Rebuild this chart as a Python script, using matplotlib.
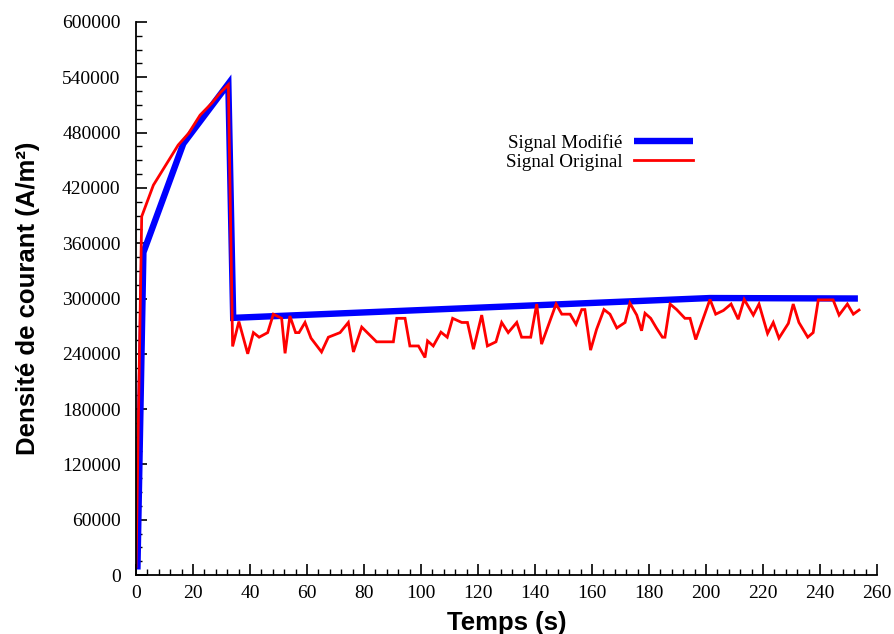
import numpy as np
import matplotlib

matplotlib.use('Agg')

import matplotlib.pyplot as plt
from matplotlib.ticker import MultipleLocator

# modified signal (piecewise linear)
mod_t = [0.5, 2.6, 16.6, 32.4, 34.1, 201.4, 253.3]
mod_j = [6000, 350000, 468000, 533000, 279000, 300500, 300000]

# original signal
orig_t = [0.0, 2.0, 6.1, 14.8, 18.4, 22.5, 26.6, 29.5, 32.4, 33.9,
          36.1, 39.2, 41.2, 43.2, 46.2, 48.2, 51.1, 52.3, 54.0, 56.0,
          57.2, 59.3, 61.4, 65.1, 67.5, 71.6, 74.5, 76.3, 79.2, 84.4,
          90.3, 91.5, 94.4, 96.1, 99.1, 101.4, 102.3, 104.3, 107.0, 109.2,
          111.1, 114.3, 116.3, 118.4, 121.3, 123.3, 126.3, 128.3, 130.6, 133.6,
          135.3, 138.5, 140.6, 142.3, 147.4, 149.4, 152.3, 154.4, 156.4, 157.5,
          159.5, 161.6, 164.2, 166.3, 168.7, 171.6, 173.3, 175.7, 177.4, 178.6,
          180.6, 182.6, 184.7, 185.6, 187.4, 189.7, 192.6, 194.4, 196.4, 201.4,
          203.4, 206.1, 208.8, 211.3, 213.4, 216.6, 218.6, 221.6, 223.6, 225.6,
          228.9, 230.6, 232.6, 235.7, 237.6, 239.4, 244.6, 246.7, 249.6, 251.7,
          253.7]
orig_j = [9000, 389000, 423000, 466500, 479000, 499000, 512000, 523000, 532000, 248000,
          275000, 240000, 263000, 258000, 263000, 283000, 278500, 240500, 281000, 263000,
          263000, 274000, 257000, 242000, 258000, 263000, 274000, 242000, 269000, 253000,
          253000, 278500, 278500, 248500, 248500, 236000, 254000, 248500, 263500, 258000,
          278500, 274000, 274000, 245000, 282000, 248500, 253000, 274000, 263000, 274000,
          258000, 258000, 294000, 250500, 294000, 283000, 283000, 272000, 288000, 288000,
          244000, 266500, 288000, 283000, 268000, 274000, 295000, 282000, 265000, 284000,
          278500, 268000, 258000, 258000, 294000, 288000, 278500, 278500, 255500, 299000,
          283000, 287000, 294000, 277500, 299000, 282000, 294000, 262000, 274000, 257000,
          273000, 294000, 274000, 258000, 263000, 298500, 298500, 282000, 294000, 283000,
          287500]

xticks = np.arange(0, 261, 20)
yticks = np.arange(0, 600001, 60000)

plt.rcParams['font.family'] = ['Liberation Serif', 'DejaVu Serif']

fig = plt.figure(figsize=(8.95, 6.34), dpi=100)
ax = fig.add_axes([136 / 895., 59 / 634., 741 / 895., 553 / 634.])

ax.plot(mod_t, mod_j, color='#0000ff', lw=4.6, solid_capstyle='butt',
        solid_joinstyle='miter', label='Signal Modifié')
ax.plot(orig_t, orig_j, color='#ff0000', lw=2.0, solid_joinstyle='miter',
        label='Signal Original')

ax.set_xlim(0, 260)
ax.set_ylim(0, 600000)
ax.set_xticks(xticks)
ax.set_yticks(yticks)
ax.set_xticklabels([str(v) for v in xticks])
ax.set_yticklabels([str(v) for v in yticks])
ax.xaxis.set_minor_locator(MultipleLocator(4))
ax.yaxis.set_minor_locator(MultipleLocator(15000))

for s in ['top', 'right']:
    ax.spines[s].set_visible(False)
for s in ['left', 'bottom']:
    ax.spines[s].set_linewidth(1.3)

ax.tick_params(which='major', direction='in', length=8, width=1.2,
               labelsize=14, pad=7)
ax.tick_params(which='minor', direction='in', length=4, width=1.0)
ax.tick_params(axis='y', pad=11)

ax.set_xlabel('Temps (s)', family=['Liberation Sans', 'DejaVu Sans'],
              fontweight='bold', fontsize=18.5, labelpad=7)
ax.set_ylabel('Densité de courant (A/m²)', family=['Liberation Sans', 'DejaVu Sans'],
              fontweight='bold', fontsize=18.5, labelpad=16)

ax.legend(loc='upper right', bbox_to_anchor=(0.7517, 0.797), frameon=False,
          markerfirst=False, fontsize=13.7, handlelength=3.1,
          handletextpad=0.6, labelspacing=0.06, borderaxespad=0, borderpad=0)

fig.savefig('out.png', dpi=100)
